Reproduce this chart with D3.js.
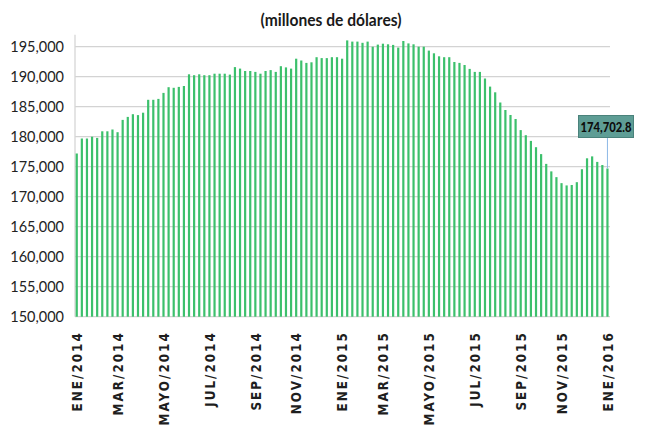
<!DOCTYPE html>
<html><head><meta charset="utf-8">
<script src="https://cdn.jsdelivr.net/npm/d3@7"></script>
<style>body{margin:0;background:#fff}</style>
</head><body><svg id="c" width="646" height="428"></svg>
<script>
const title = "(millones de dólares)";
const values = [
177200,179700,179700,180000,179800,180900,180900,181200,180750,182800,
183300,183750,183600,184000,186150,186150,186300,187300,188250,188150,
188300,188450,190400,190250,190400,190250,190250,190500,190500,190500,
190350,191600,191350,190950,190950,190800,190500,190950,191100,190800,
191750,191550,191350,193000,192700,192300,192400,193250,193100,193100,
193250,193250,193000,196050,195850,195850,195650,195850,195000,195350,
195500,195400,195300,194850,195950,195550,195400,195000,195000,194350,
193900,193400,193250,193250,192450,192300,191950,191300,190800,190800,
189700,188350,187400,185700,184450,183620,182950,181100,180250,179300,
178250,177100,175470,174220,173260,172260,171880,171950,172420,174580,
176400,176720,175800,175280,174702.8];
const tickLabels = ["ENE/2014","MAR/2014","MAYO/2014","JUL/2014","SEP/2014","NOV/2014",
  "ENE/2015","MAR/2015","MAYO/2015","JUL/2015","SEP/2015","NOV/2015","ENE/2016"];
const tickIndex = [0,8,17,26,35,43,52,60,69,78,87,95,104];
const yTicks = [150000,155000,160000,165000,170000,175000,180000,185000,190000,195000];
const lastLabel = "174,702.8";

const svg = d3.select("#c");
const x = d3.scaleBand().domain(values.map((d,i)=>i)).range([74.2,610]).padding(0);
const y = d3.scaleLinear().domain([150000,195000]).range([316.7,46.7]);
const cx = i => x(i) + x.bandwidth()/2;

// title
svg.append("text").attr("x",331).attr("y",26).attr("text-anchor","middle")
  .attr("font-family","Lato, 'Noto Sans', sans-serif").attr("font-weight","bold")
  .attr("font-size",17).attr("fill","#1a1a1a")
  .attr("textLength",141).attr("lengthAdjust","spacingAndGlyphs").text(title);

// gridlines
svg.append("g").selectAll("line").data(yTicks).join("line")
  .attr("x1",75).attr("x2",610).attr("y1",d=>y(d)).attr("y2",d=>y(d))
  .attr("stroke","#d3d3d3").attr("stroke-width",1.3);

// y axis line
svg.append("line").attr("x1",75).attr("x2",75).attr("y1",y(197000)).attr("y2",y(150000))
  .attr("stroke","#d6d6d6").attr("stroke-width",1.3);

// y axis labels
const ya = svg.append("g").attr("transform","translate(75,0)")
  .call(d3.axisLeft(y).tickValues(yTicks).tickFormat(d3.format(",")).tickSize(0).tickPadding(11));
ya.select(".domain").remove();
ya.selectAll("text").attr("font-family","Lato, 'Noto Sans', sans-serif").attr("font-size",14.5).attr("fill","#222");

// bars
svg.append("g").selectAll("rect").data(values).join("rect")
  .attr("x",(d,i)=>cx(i)-1.1).attr("width",2.2)
  .attr("y",d=>y(d)).attr("height",d=>y(150000)-y(d))
  .attr("fill","#3cc06c");

// x axis labels
const xa = svg.append("g").attr("transform",`translate(0,${y(150000)})`)
  .call(d3.axisBottom(x).tickValues(tickIndex).tickFormat((d,i)=>tickLabels[i]).tickSize(0));
xa.select(".domain").remove();
xa.selectAll(".tick").attr("transform",d=>`translate(${cx(d)},0)`);
xa.selectAll("text")
  .attr("x",0).attr("y",0).attr("dy","0.36em")
  .attr("text-anchor","end")
  .attr("transform","translate(0,14.5) scale(1.2,1) rotate(-90)")
  .attr("font-family","'DejaVu Sans', sans-serif").attr("font-weight","bold")
  .attr("font-size",12).attr("letter-spacing","2px").attr("fill","#1e1e1e");

// annotation
const li = values.length-1;
const lx = cx(li);
svg.append("line").attr("x1",lx).attr("x2",lx).attr("y1",y(values[li])).attr("y2",137)
  .attr("stroke","#8db8e6").attr("stroke-width",1);
svg.append("rect").attr("x",578.5).attr("y",115.5).attr("width",55).attr("height",22)
  .attr("fill","#5e9d95").attr("stroke","#4a827b").attr("stroke-width",1);
svg.append("text").attr("x",606).attr("y",131.5).attr("text-anchor","middle")
  .attr("font-family","Lato, 'Noto Sans', sans-serif").attr("font-weight","900")
  .attr("font-size",14).attr("fill","#0d0d0d")
  .attr("textLength",51).attr("lengthAdjust","spacingAndGlyphs").text(lastLabel);
</script></body></html>
